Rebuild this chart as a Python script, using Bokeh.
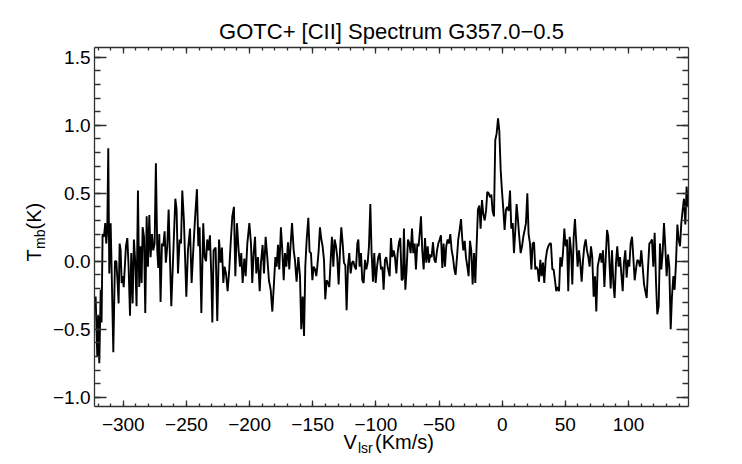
import math
from bokeh.plotting import figure
from bokeh.models import (LinearAxis, SingleIntervalTicker, CustomJSTickFormatter,
                          Label, Range1d)
from bokeh.embed import file_html
from bokeh.resources import INLINE

# ---------------- data ----------------
vel_a = [-321.9, -320.6, -319.8, -319.0, -317.9, -317.2, -316.4, -315.3, -314.3, -313.5,
         -312.7, -311.9, -311.1, -310.0, -307.9, -306.6, -305.5, -304.5, -303.7, -302.9,
         -302.1, -301.3, -300.5, -299.7, -298.9, -297.9, -296.8, -295.8, -294.7, -293.7,
         -292.6, -291.6, -290.5, -289.5, -288.4, -287.4, -286.3, -285.5, -284.7, -283.6,
         -282.6, -281.5, -280.5, -279.4, -278.4, -277.3, -276.3, -275.2, -274.2, -273.1,
         -272.3, -271.5, -270.5, -269.4, -268.4, -267.3, -266.3, -265.2, -264.1]
tmb_a = [-0.26, -0.70, -0.40, -0.75, -0.21, -0.45, 0.20, 0.18, 0.28, 0.13,
         0.23, 0.83, -0.09, 0.28, -0.67, 0.00, 0.00, -0.16, -0.31, 0.13,
         0.08, -0.16, -0.11, -0.19, -0.06, 0.11, 0.17, -0.04, -0.40, 0.06,
         -0.31, 0.16, -0.01, -0.33, 0.52, -0.19, 0.11, -0.16, 0.25, 0.18,
         -0.38, 0.33, -0.04, 0.34, 0.03, 0.20, 0.08, 0.13, 0.72, 0.08,
         -0.05, 0.20, -0.30, 0.13, 0.11, 0.22, -0.01, 0.11, 0.38]

vel_b = [-262.0, -258.8, -257.8, -256.7, -255.4, -254.3, -253.3, -252.0, -250.1, -248.8,
         -247.2, -245.9, -244.6, -243.3, -241.7, -240.6, -239.6, -238.2, -236.7, -235.6,
         -234.5, -233.5, -232.4, -231.4, -230.3, -229.5, -228.5, -226.9, -225.6, -224.2,
         -222.9, -221.9, -220.8, -219.8, -218.7, -217.4, -216.1, -215.0, -213.7, -212.4,
         -211.3, -210.0, -208.7, -207.6, -206.6, -205.5]
tmb_b = [-0.33, 0.46, 0.38, -0.09, 0.16, 0.13, 0.52, 0.30, -0.26, 0.08,
         0.24, -0.16, 0.08, 0.30, 0.53, 0.11, 0.25, -0.38, 0.28, 0.03,
         0.00, 0.16, 0.08, 0.19, -0.11, -0.45, 0.08, 0.10, -0.44, 0.16,
         -0.01, 0.10, -0.16, -0.04, -0.09, -0.22, -0.06, 0.13, 0.33, 0.40,
         -0.11, 0.28, 0.08, -0.04, 0.06, -0.16]

vel_c = [-204.2, -203.1, -201.8, -200.2, -198.9, -197.9, -196.8, -195.7, -194.7, -193.4,
         -192.0, -191.0, -189.7, -188.6, -187.3, -186.0, -184.7, -183.3, -182.0, -180.7,
         -179.6, -178.6, -177.5, -176.5, -175.2, -174.1, -173.0, -172.0, -170.9, -169.6,
         -168.6, -167.5, -166.4, -165.1, -164.1, -162.8, -161.4, -160.1, -159.1, -158.0,
         -156.9, -155.9, -154.8, -153.5, -152.5, -151.4, -150.3, -149.3, -148.2, -147.2]
tmb_c = [0.02, -0.11, 0.13, 0.28, 0.13, -0.16, 0.06, 0.18, -0.09, 0.03,
         -0.22, -0.01, 0.12, -0.09, 0.18, 0.03, -0.14, -0.21, -0.37, -0.16,
         0.03, -0.04, 0.12, -0.06, 0.25, 0.08, -0.14, 0.06, -0.04, 0.14,
         -0.06, 0.13, 0.28, 0.08, 0.01, -0.15, 0.03, -0.11, -0.50, -0.26,
         -0.55, -0.04, 0.16, 0.32, 0.07, 0.06, -0.14, -0.04, -0.06, -0.11]

vel_d = [-146.4, -145.3, -144.3, -143.2, -142.2, -141.1, -140.1, -139.0, -137.9, -136.9,
         -135.8, -134.8, -133.7, -132.7, -131.6, -130.6, -129.5, -128.4, -127.4, -126.3,
         -125.3, -124.2, -123.2, -122.1, -121.1, -120.0, -118.9, -117.9, -116.8, -115.8,
         -114.7, -113.9, -112.9, -111.8, -110.8, -109.7, -108.6, -107.6, -106.5, -105.5,
         -104.4, -103.4, -102.3, -101.3, -100.2, -99.1, -98.1, -97.0, -96.0, -94.9,
         -93.9, -92.8, -91.8, -90.7]
tmb_d = [-0.04, 0.08, 0.25, 0.16, 0.11, 0.01, -0.28, -0.14, -0.16, -0.19,
         0.01, 0.18, -0.04, 0.16, 0.11, 0.03, -0.17, 0.08, 0.25, 0.13,
         -0.01, -0.03, -0.36, -0.04, 0.06, -0.09, -0.01, 0.00, -0.04, -0.06,
         0.13, 0.16, -0.04, 0.06, -0.14, -0.16, 0.01, -0.06, -0.01, 0.11,
         0.42, 0.06, -0.15, 0.06, -0.16, -0.04, 0.03, 0.06, -0.06, -0.04,
         -0.21, 0.01, 0.03, -0.04]

vel_e = [-89.1, -88.1, -87.0, -85.9, -84.9, -83.8, -82.8, -81.7, -80.7, -79.6,
         -78.6, -77.8, -76.7, -75.7, -74.6, -73.5, -72.5, -71.4, -70.4, -69.3,
         -68.3, -67.2, -66.2, -65.1, -64.3, -63.3, -62.2, -61.1, -60.1, -59.0,
         -58.0, -56.9, -55.9, -54.8, -53.7, -52.7, -51.6, -50.6, -49.5, -48.5,
         -47.4, -46.4, -45.3, -44.3, -43.2, -42.1, -41.1, -40.0, -39.0, -37.9,
         -36.9, -35.8, -34.8, -33.7, -32.6, -31.6]
tmb_e = [-0.11, 0.17, 0.03, 0.08, 0.03, -0.09, 0.06, 0.14, 0.17, -0.14,
         -0.13, 0.24, -0.21, -0.06, 0.16, 0.13, 0.06, 0.24, 0.06, 0.13,
         -0.06, 0.13, 0.11, 0.23, 0.33, 0.08, -0.06, 0.17, -0.01, 0.11,
         -0.01, 0.05, 0.03, 0.14, 0.01, -0.01, 0.08, 0.13, 0.16, 0.19,
         -0.05, 0.13, -0.04, 0.11, 0.16, 0.13, 0.20, 0.08, 0.03, -0.06,
         -0.10, 0.03, 0.16, 0.23, 0.31, 0.16]

vel_f = [-30.8, -29.7, -28.7, -27.6, -26.6, -25.5, -24.5, -23.4, -22.3, -21.3,
         -20.2, -19.2, -18.1, -17.1, -16.0, -15.0, -13.9, -12.8, -11.8, -10.7,
         -9.7, -8.6, -7.6, -6.5, -5.5, -4.4, -3.3, -2.3, -1.2, -0.2,
         0.9, 1.9, 3.0, 4.0, 5.1, 6.2, 7.2, 8.3, 9.3, 10.4,
         11.4, 12.5, 13.5, 14.6, 15.7, 16.7, 17.8, 18.8, 19.9, 20.9,
         22.0, 23.1, 24.1, 25.2, 26.2]
tmb_f = [0.08, 0.15, 0.03, -0.04, -0.11, 0.15, 0.08, -0.17, 0.06, -0.16,
         0.13, 0.38, 0.41, 0.24, 0.45, 0.35, 0.30, 0.37, 0.51, 0.50,
         0.47, 0.49, 0.37, 0.33, 0.89, 0.94, 1.05, 0.96, 0.67, 0.52,
         0.38, 0.23, 0.38, 0.40, 0.37, 0.52, 0.24, 0.28, 0.06, 0.23,
         0.42, 0.30, 0.18, 0.06, 0.11, 0.18, 0.23, 0.28, 0.50, 0.20,
         0.13, -0.06, 0.13, 0.14, -0.06]

vel_g = [27.0, 28.1, 29.1, 30.2, 31.2, 32.3, 33.3, 34.4, 35.5, 36.5,
         37.6, 38.6, 39.7, 40.7, 41.8, 42.8, 43.9, 45.0, 46.0, 47.1,
         48.1, 49.2, 50.2, 51.3, 52.3, 53.4, 54.5, 55.5, 56.6, 57.6,
         58.7, 59.7, 60.8, 61.8, 62.9, 64.0, 65.0, 66.1, 67.1, 68.2,
         69.2, 70.3, 71.3, 72.4, 73.5, 74.5, 75.6, 76.6, 77.7, 78.7,
         79.8, 80.9, 81.9, 83.0, 84.0]
tmb_g = [-0.04, -0.06, -0.15, 0.01, -0.11, -0.01, -0.16, 0.01, 0.08, 0.11,
         0.13, 0.13, -0.06, -0.06, -0.14, -0.22, -0.19, -0.22, 0.03, -0.04,
         0.06, 0.24, 0.11, 0.16, -0.22, 0.18, 0.08, -0.17, 0.18, 0.31,
         0.13, -0.04, 0.08, -0.01, -0.15, 0.01, 0.11, 0.16, 0.08, 0.03,
         -0.04, 0.11, 0.03, -0.26, -0.11, -0.37, -0.04, 0.01, 0.06, -0.01,
         0.08, -0.19, 0.01, 0.23, 0.18]

vel_h = [84.8, 85.9, 86.9, 88.0, 89.0, 90.1, 91.1, 92.2, 93.3, 94.3,
         95.4, 96.4, 97.5, 98.5, 99.6, 100.6, 101.7, 102.8, 103.8, 104.9,
         105.9, 107.0, 108.0, 109.1, 110.1, 111.2, 112.3, 113.3, 114.4, 115.4,
         116.5, 117.5, 118.6, 119.6, 120.7, 121.8, 122.8, 123.9, 124.9, 126.0,
         127.0, 128.1, 129.1, 130.2, 131.3, 132.3, 133.4, 134.4, 135.5, 136.5,
         137.6, 138.7, 139.7, 140.8, 141.8, 142.9, 143.9, 145.0, 146.0, 147.1]
tmb_h = [0.01, -0.20, 0.08, -0.16, -0.27, -0.01, 0.11, -0.04, 0.03, -0.09,
         -0.22, -0.01, 0.08, -0.12, 0.01, -0.04, 0.13, 0.18, 0.03, -0.14,
         -0.06, 0.01, 0.00, -0.04, 0.08, -0.04, -0.17, -0.22, -0.27, -0.06,
         0.13, 0.14, 0.16, -0.04, 0.21, -0.16, -0.39, -0.33, 0.13, -0.06,
         0.06, 0.28, 0.11, -0.11, 0.05, -0.04, -0.50, -0.26, -0.11, -0.21,
         -0.01, 0.27, 0.16, 0.11, 0.28, 0.38, 0.46, 0.27, 0.55, 0.40]

segments = [(vel_a, tmb_a), (vel_b, tmb_b), (vel_c, tmb_c), (vel_d, tmb_d),
            (vel_e, tmb_e), (vel_f, tmb_f), (vel_g, tmb_g), (vel_h, tmb_h)]
velocity, tmb = [], []
for v, t in segments:
    assert len(v) == len(t), (len(v), len(t))
    velocity += v
    tmb += t

TITLE = "GOTC+ [CII] Spectrum G357.0\u22120.5"
X_LABEL = ["V", "lsr", "(Km/s)"]
Y_LABEL = ["T", "mb", "(K)"]
X0, X1 = -322.8, 147.5           # plotted velocity range
Y0, Y1 = -1.066, 1.574           # plotted temperature range
X_TICK_STEP = 50
Y_TICK_STEP = 0.5

# ---------------- layout / style ----------------
W, H = 742, 464
BL, BR, BT, BB = 94.0, 688.0, 46.7, 405.7   # plot box edges in canvas pixels
FONT = "Liberation Sans"
AX_COLOR = "#303030"
AX_W = 1.3
MID = 0.3465   # em distance from baseline to the "middle" anchor

kx = (X1 - X0) / (BR - BL)
ky = (Y1 - Y0) / (BB - BT)
XR = (X0 - BL * kx, X0 + (W - BL) * kx)
YR = (Y1 - (H - BT) * ky, Y1 + BT * ky)


def fx(px):
    return XR[0] + px * kx


def fy(py):
    return YR[1] - py * ky


p = figure(width=W, height=H, output_backend="svg", toolbar_location=None,
           x_range=Range1d(*XR), y_range=Range1d(*YR),
           x_axis_location=None, y_axis_location=None, min_border=0)
p.title.visible = False
p.outline_line_color = None
p.xgrid.visible = False
p.ygrid.visible = False
p.background_fill_color = "white"
p.border_fill_color = "white"

xfmt = CustomJSTickFormatter(code="return tick.toFixed(0).replace('-', '\u2212');")
yfmt = CustomJSTickFormatter(code="return tick.toFixed(1).replace('-', '\u2212');")


def make_axis(is_x, loc, show_labels):
    ticker = SingleIntervalTicker(interval=X_TICK_STEP if is_x else Y_TICK_STEP,
                                  num_minor_ticks=5)
    ax = LinearAxis(ticker=ticker, formatter=xfmt if is_x else yfmt,
                    fixed_location=loc, bounds=(X0, X1) if is_x else (Y0, Y1))
    ax.axis_line_color = AX_COLOR
    ax.axis_line_width = AX_W
    ax.major_tick_line_color = AX_COLOR
    ax.minor_tick_line_color = AX_COLOR
    ax.major_tick_line_width = AX_W
    ax.minor_tick_line_width = AX_W
    ax.major_tick_out = 0
    ax.minor_tick_out = 0
    ax.major_tick_in = 6 if is_x else 12
    ax.minor_tick_in = 3 if is_x else 6
    ax.major_label_text_font = FONT
    ax.major_label_text_font_size = "19px"
    if show_labels:
        ax.major_label_text_color = "black"
        ax.major_label_standoff = 12 if is_x else 4
    else:
        ax.major_label_text_color = None
    return ax


p.add_layout(make_axis(True, Y0, True), "below")
p.add_layout(make_axis(True, Y1, False), "above")
p.add_layout(make_axis(False, X0, True), "left")
p.add_layout(make_axis(False, X1, False), "right")

p.line(velocity, tmb, line_color="black", line_width=1.9)


def hlabel(text, left, baseline, size, align="left"):
    """Horizontal text whose baseline sits at the given canvas pixel row."""
    p.add_layout(Label(x=fx(left), y=fy(baseline - MID * size), text=text,
                       text_font=FONT, text_font_size=f"{size}px", text_color="black",
                       text_align=align, text_baseline="middle"))


def vlabel(text, baseline_x, start_y, size):
    """Text rotated 90 degrees (reading upwards), baseline at a canvas column."""
    p.add_layout(Label(x=fx(baseline_x - MID * size), y=fy(start_y), text=text,
                       text_font=FONT, text_font_size=f"{size}px", text_color="black",
                       angle=math.pi / 2, text_align="left", text_baseline="middle"))


# title
hlabel(TITLE, 391, 38.3, 22, align="center")

# x-axis label: V_lsr(Km/s)
hlabel(X_LABEL[0], 343, 448.5, 20)
hlabel(X_LABEL[1], 357.5, 452.5, 14)
hlabel(X_LABEL[2], 374.5, 448.5, 20)

# y-axis label: T_mb(K), rotated
vlabel(Y_LABEL[0], 40, 261, 20)
vlabel(Y_LABEL[1], 44, 248.5, 14)
vlabel(Y_LABEL[2], 40, 229, 20)

open("out.html", "w").write(file_html(p, INLINE))
